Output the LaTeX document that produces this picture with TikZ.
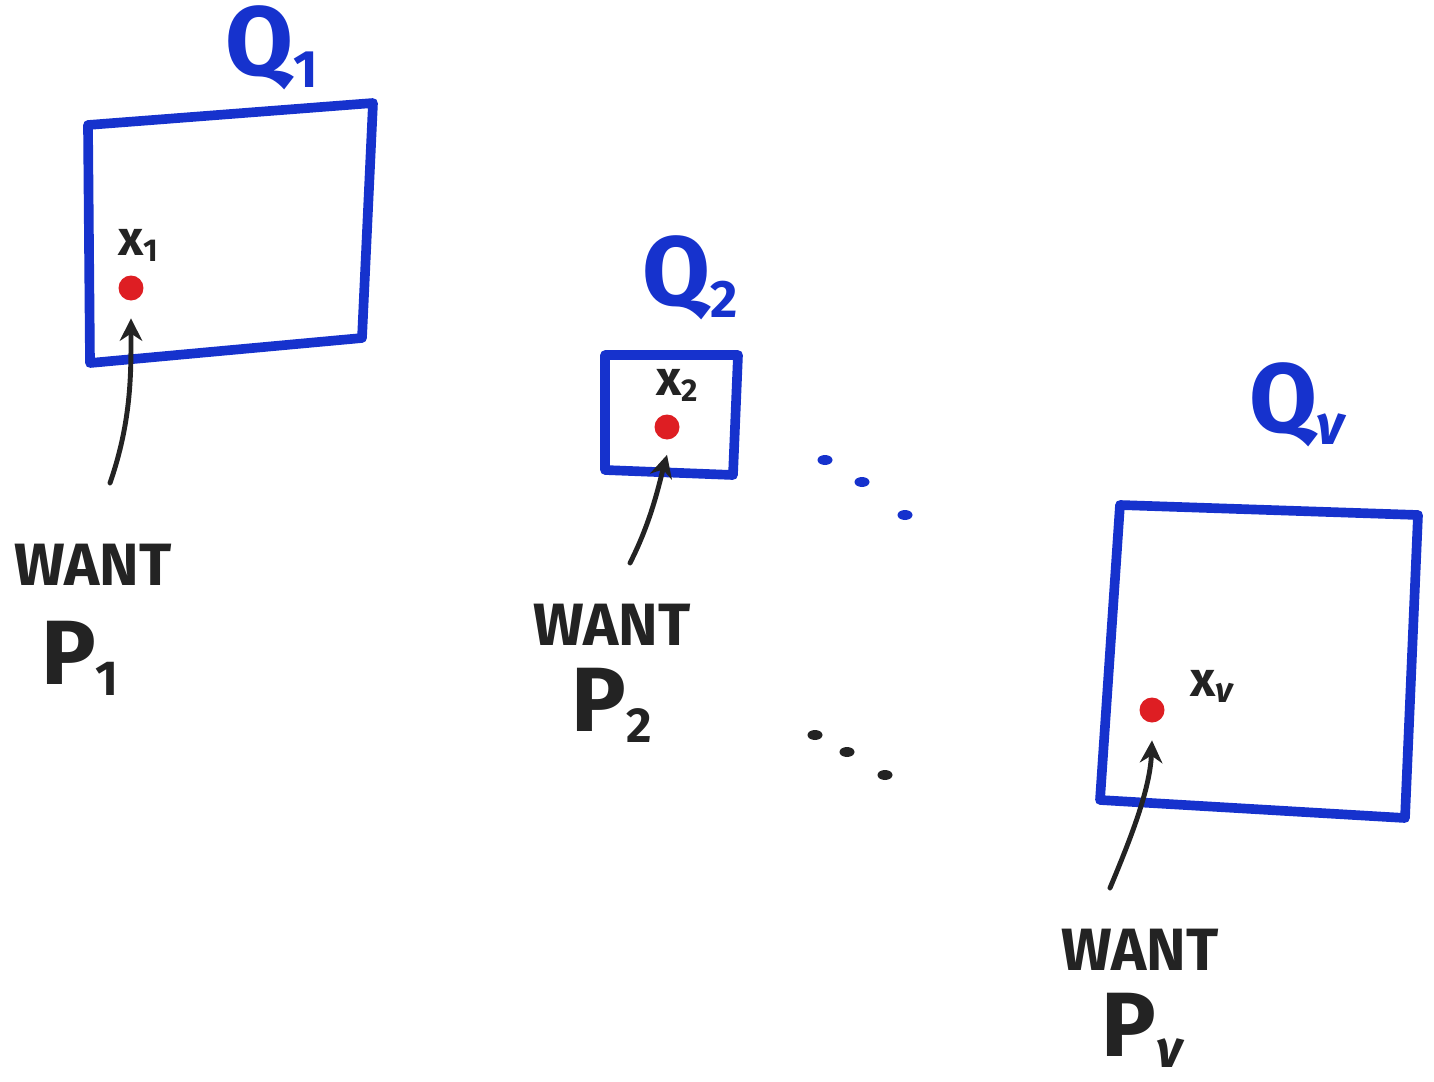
\documentclass[tikz,border=0pt]{standalone}
\usepackage{fontspec}
\setmainfont{Fira Sans}
\usetikzlibrary{arrows.meta,shapes.geometric}
\definecolor{penblue}{RGB}{22,50,205}
\definecolor{penred}{RGB}{222,30,35}
\definecolor{penblack}{RGB}{35,35,35}
\newcommand\lsub[2]{\raisebox{-0.12em}{\fontsize{#1}{#1}\selectfont #2}}
\newcommand\nusym{{\itshape ν}}
\tikzset{
  boxline/.style={draw=penblue,line width=5.5pt,line join=round,line cap=round},
  qlabel/.style={text=penblue,font=\fontsize{56}{58}\selectfont\bfseries,inner sep=0pt},
  xlabel/.style={text=penblack,font=\fontsize{28}{30}\selectfont\bfseries,inner sep=0pt},
  wantlabel/.style={text=penblack,font=\fontsize{34}{38}\selectfont\bfseries,inner sep=0pt},
  plabel/.style={text=penblack,font=\fontsize{52}{56}\selectfont\bfseries,inner sep=0pt},
  reddot/.style={circle,fill=penred,minimum size=0.5cm,inner sep=0pt},
  bluedot/.style={ellipse,fill=penblue,minimum width=0.3cm,minimum height=0.2cm,inner sep=0pt},
  pointer/.style={draw=penblack,line width=2.8pt,line cap=round,-{Stealth[length=0.45cm,width=0.45cm]}},
}
\begin{document}
\begin{tikzpicture}[x=0.02cm,y=-0.02cm]
\useasboundingbox (0,0) rectangle (1434,1082);
% boxes
\draw[boxline] (88,125) -- (373,103) -- (362,338) -- (90,363) -- cycle;
\draw[boxline] (605,355) -- (738,355) -- (733,475) -- (605,470) -- cycle;
\draw[boxline] (1120,505) -- (1418,515) -- (1405,818) -- (1100,800) -- cycle;
% Q labels
\node[qlabel] (q1) at (272,48) {Q\lsub{30}{1}};
\node[qlabel] (q2) at (690,278) {Q\lsub{30}{2}};
\node[qlabel] (qn) at (1297,405) {Q\lsub{32}{\nusym}};
% x labels and dots
\node[xlabel] (x1) at (138,245) {x\lsub{18}{1}};
\node[reddot] (d1) at (131,288) {};
\node[xlabel] (x2) at (677,385) {x\lsub{18}{2}};
\node[reddot] (d2) at (667,427) {};
\node[xlabel] (xn) at (1212,686) {x\lsub{20}{\nusym}};
\node[reddot] (dn) at (1152,710) {};
% WANT labels
\node[wantlabel] (w1) at (93,565) {WANT};
\node[plabel] (p1) at (80,658) {P\lsub{28}{1}};
\node[wantlabel] (w2) at (612,625) {WANT};
\node[plabel] (p2) at (612,705) {P\lsub{28}{2}};
\node[wantlabel] (wn) at (1140,950) {WANT};
\node[plabel] (pn) at (1142,1030) {P\lsub{30}{\nusym}};
% arrows
\coordinate (a1) at (110,483);
\coordinate (a2) at (630,563);
\coordinate (an) at (1110,888);
\draw[pointer] (a1) .. controls (132,420) and (131,370) .. ([yshift=-0.35cm]d1.south);
\draw[pointer] (a2) .. controls (652,520) and (660,480) .. ([yshift=-0.3cm]d2.south);
\draw[pointer] (an) .. controls (1130,840) and (1150,790) .. ([yshift=-0.35cm]dn.south);
% dots (ellipses)
\node[bluedot] (u1) at (825,460) {};
\node[bluedot] (u2) at (862,482) {};
\node[bluedot] (u3) at (905,515) {};
\node[bluedot,fill=penblack] (l1) at (815,735) {};
\node[bluedot,fill=penblack] (l2) at (847,752) {};
\node[bluedot,fill=penblack] (l3) at (885,775) {};
\end{tikzpicture}
\end{document}
